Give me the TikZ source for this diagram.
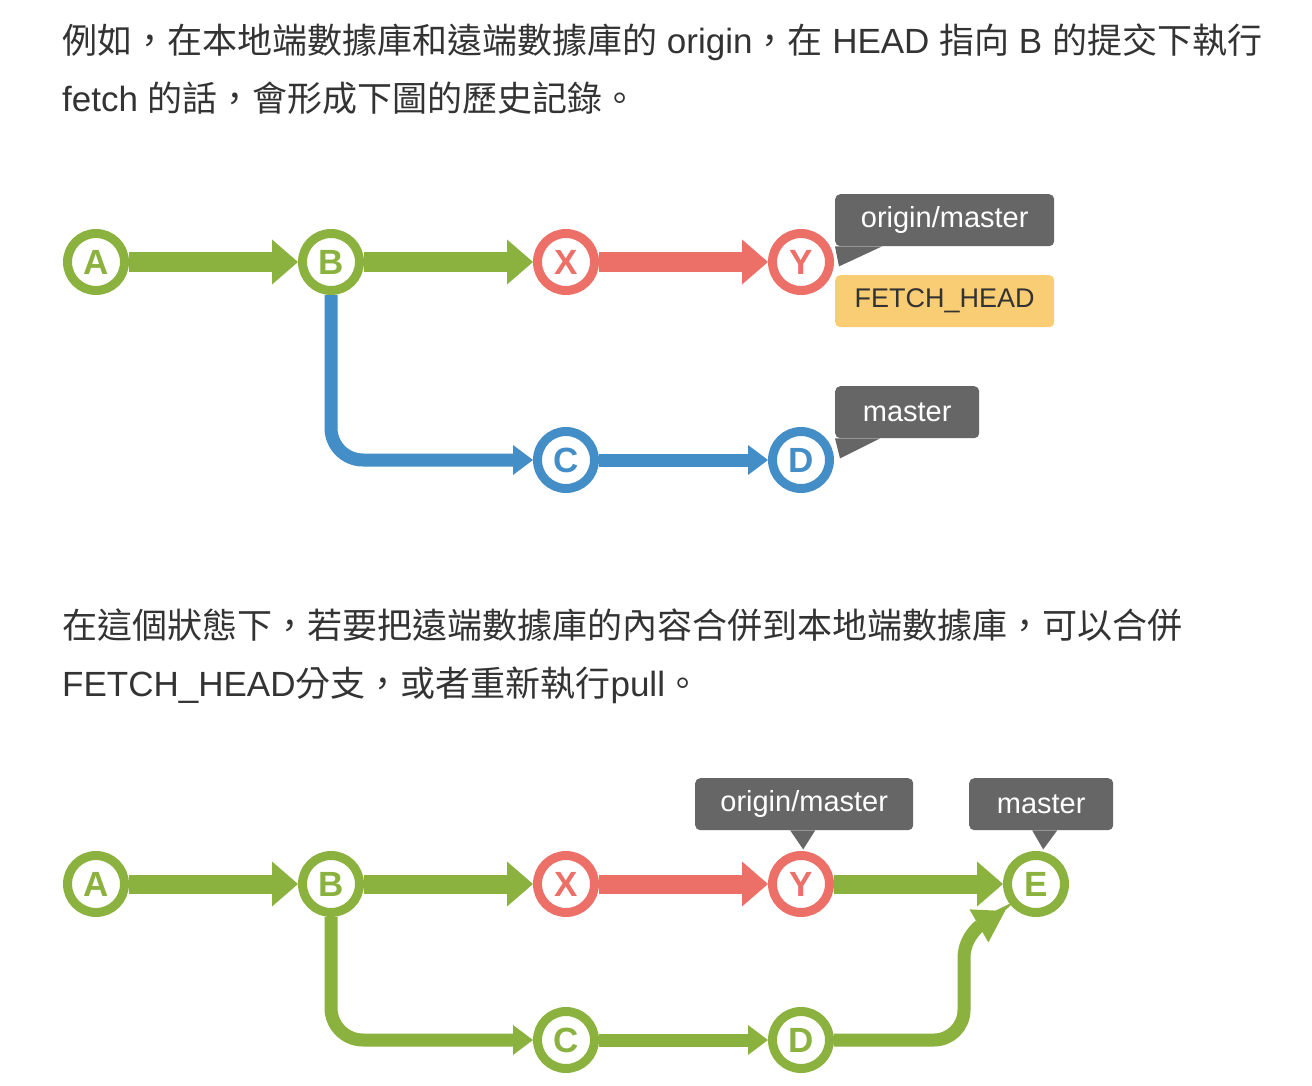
\documentclass[tikz,border=0pt]{standalone}
\usepackage{fontspec}
\setmainfont{Liberation Sans}
\newfontfamily\cjk{Noto Sans CJK TC}
\usetikzlibrary{arrows.meta}
\definecolor{gitgreen}{HTML}{8BB23E}
\definecolor{gitred}{HTML}{ED7068}
\definecolor{gitblue}{HTML}{438EC6}
\definecolor{taggray}{HTML}{666666}
\definecolor{tagyellow}{HTML}{F8CD73}
\definecolor{txtgray}{HTML}{333333}
\tikzset{
  commit/.style={circle,draw=#1,text=#1,fill=white,line width=9pt,minimum size=57pt,inner sep=0pt,font=\fontsize{35}{35}\selectfont\bfseries},
  trunk/.style={draw=#1,line width=19pt,-{Triangle[length=26pt,width=45pt,line width=0pt]}},
  twig/.style={draw=#1,line width=13pt,-{Triangle[length=20pt,width=30pt,line width=0pt]}},
  tag/.style={fill=taggray,text=white,rounded corners=5pt,inner sep=0pt,minimum height=52pt,anchor=north west,font=\fontsize{29}{29}\selectfont},
  para/.style={anchor=base west,inner sep=0pt,text=txtgray,font=\fontsize{35}{35}\selectfont}
}

\begin{document}
\begin{tikzpicture}[x=1pt,y=-1pt]
\fill[white] (0,0) rectangle (1312,1086);
%-------->text<--------------
\node[para] (t1) at (62,54) {{\cjk 例如，在本地端數據庫和遠端數據庫的} origin{\cjk ，在} HEAD {\cjk 指向} B {\cjk 的提交下執行}};
\node[para] (t2) at (62,112) {fetch {\cjk 的話，會形成下圖的歷史記錄。}};
\node[para] (t3) at (62,638) {{\cjk 在這個狀態下，若要把遠端數據庫的內容合併到本地端數據庫，可以合併}};
\node[para] (t4) at (62,696) {FETCH\_HEAD{\cjk 分支，或者重新執行}pull{\cjk 。}};
%-------->top commits<--------------
\node[commit=gitgreen] (a1) at (96,262) {A};
\node[commit=gitgreen] (b1) at (331,262) {B};
\node[commit=gitred] (x1) at (566,262) {X};
\node[commit=gitred] (y1) at (801,262) {Y};
\node[commit=gitblue] (c1) at (566,460) {C};
\node[commit=gitblue] (d1) at (801,460) {D};
%-------->top arrows<--------------
\draw[trunk=gitgreen] (a1) -- (b1);
\draw[trunk=gitgreen] (b1) -- (x1);
\draw[trunk=gitred] (x1) -- (y1);
\draw[twig=gitblue,rounded corners=32pt] (b1) |- (c1);
\draw[twig=gitblue] (c1) -- (d1);
%-------->top tags<--------------
\node[tag,minimum width=219pt] (om1) at (835,194) {origin/master};
\node[tag,minimum width=219pt,fill=tagyellow,text=txtgray,font=\fontsize{27}{27}\selectfont] (fh1) at (835,275) {FETCH\_HEAD};
\node[tag,minimum width=144pt] (m1) at (835,386) {master};
\fill[taggray] (om1.south west) -- ++(47,0) -- ++(-43,20) -- cycle;
\fill[taggray] (m1.south west) -- ++(45,0) -- ++(-40,20) -- cycle;
%-------->bottom commits<--------------
\node[commit=gitgreen] (a2) at (96,884) {A};
\node[commit=gitgreen] (b2) at (331,884) {B};
\node[commit=gitred] (x2) at (566,884) {X};
\node[commit=gitred] (y2) at (801,884) {Y};
\node[commit=gitgreen] (e2) at (1036,884) {E};
\node[commit=gitgreen] (c2) at (566,1040) {C};
\node[commit=gitgreen] (d2) at (801,1040) {D};
\coordinate (mtip) at (1005,911);
%-------->bottom arrows<--------------
\draw[trunk=gitgreen] (a2) -- (b2);
\draw[trunk=gitgreen] (b2) -- (x2);
\draw[trunk=gitred] (x2) -- (y2);
\draw[trunk=gitgreen] (y2) -- (e2);
\draw[twig=gitgreen,rounded corners=32pt] (b2) |- (c2);
\draw[twig=gitgreen] (c2) -- (d2);
\draw[draw=gitgreen,line width=13pt,-{Triangle[length=30pt,width=38pt,line width=0pt]}] (d2.east) -- (934,1040) .. controls (950.5,1040) and (964,1026.5) .. (964,1010) -- (964,958) .. controls (964,935) and (984,923) .. (mtip);
%-------->bottom tags<--------------
\node[tag,minimum width=218pt] (om2) at (695,778) {origin/master};
\node[tag,minimum width=144pt] (m2) at (969,778) {master};
\fill[taggray] ([xshift=-14pt]om2.south) -- ++(25,0) -- ++(-12,19) -- cycle;
\fill[taggray] ([xshift=-9pt]m2.south) -- ++(25,0) -- ++(-14,19) -- cycle;
\end{tikzpicture}
\end{document}
